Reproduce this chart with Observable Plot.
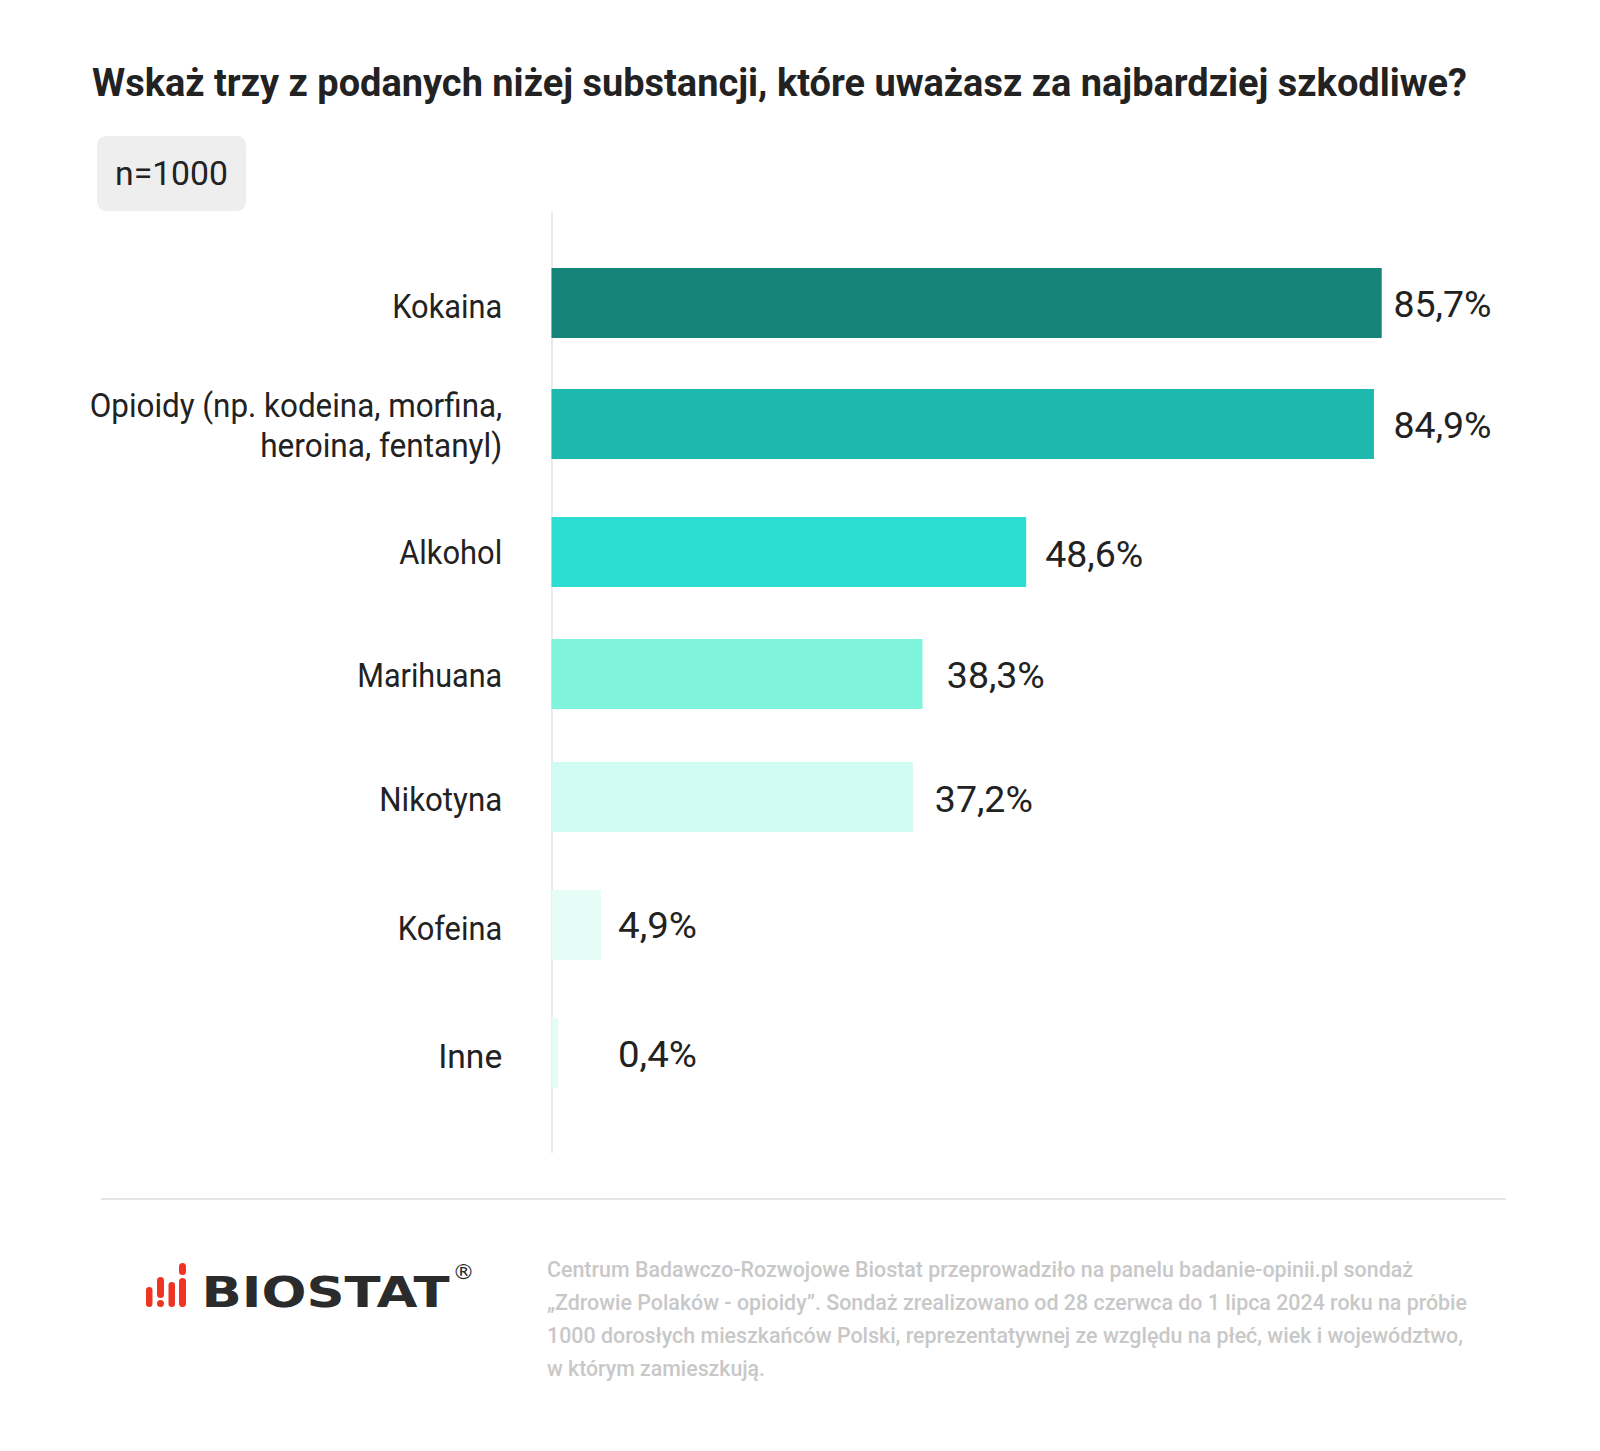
<!DOCTYPE html>
<html lang="pl">
<head>
<meta charset="utf-8">
<script src="https://cdn.jsdelivr.net/npm/d3@7"></script>
<script src="https://cdn.jsdelivr.net/npm/@observablehq/plot@0.6"></script>
<style>
  html, body { margin: 0; padding: 0; background: #fff; }
  #page { position: relative; width: 1600px; height: 1451px; overflow: hidden; font-family: Roboto, sans-serif; color: #222; }
  #page > * { position: absolute; }
  #title { left: 92px; top: 60px; font-size: 38px; font-weight: 700; line-height: 46px; white-space: nowrap; transform-origin: left center; }
  #badge { left: 97px; top: 136px; width: 149px; height: 75px; background: #eeeeee; border-radius: 9px; }
  #n { left: 115px; top: 151.5px; font-size: 34px; line-height: 42px; white-space: nowrap; transform-origin: left center; }
  #chart { left: 0; top: 211px; }
  #rule { left: 101px; top: 1198px; width: 1405px; height: 1.5px; background: #e6e6e6; }
  .note { left: 546.5px; font-size: 22px; font-weight: 500; color: #c8c8c8; line-height: 30px; white-space: nowrap; transform-origin: left center; }
  #logo { left: 0; top: 1240px; }
</style>
</head>
<body>
<div id="page">
  <div id="title">Wskaż trzy z podanych niżej substancji, które uważasz za najbardziej szkodliwe?</div>
  <div id="badge"></div>
  <div id="n">n=1000</div>
  <div id="chart"></div>
  <div id="rule"></div>
  <div class="note" style="top:1254.5px" data-w="866">Centrum Badawczo-Rozwojowe Biostat przeprowadziło na panelu badanie-opinii.pl sondaż</div>
  <div class="note" style="top:1287.5px" data-w="920">„Zdrowie Polaków - opioidy”. Sondaż zrealizowano od 28 czerwca do 1 lipca 2024 roku na próbie</div>
  <div class="note" style="top:1320.5px" data-w="916">1000 dorosłych mieszkańców Polski, reprezentatywnej ze względu na płeć, wiek i województwo,</div>
  <div class="note" style="top:1353.5px" data-w="218">w którym zamieszkują.</div>
  <svg id="logo" width="600" height="100" viewBox="0 1240 600 100">
    <g fill="#ee3524">
      <rect x="146" y="1287" width="6.5" height="20" rx="3.2"/>
      <rect x="157" y="1277" width="7" height="21" rx="3.5"/>
      <rect x="157" y="1300" width="7" height="7" rx="3.5"/>
      <rect x="168.5" y="1282" width="6.5" height="25" rx="3.2"/>
      <rect x="179" y="1263" width="7" height="12" rx="3.5"/>
      <rect x="179" y="1278" width="7" height="29" rx="3.5"/>
    </g>
    <text x="201.5" y="1307" font-family="'DejaVu Sans'" font-weight="700" font-size="42" fill="#2b2b2b" textLength="248" lengthAdjust="spacingAndGlyphs">BIOSTAT</text>
    <text x="463.5" y="1279" font-family="'DejaVu Sans'" font-size="22" fill="#2b2b2b" text-anchor="middle">®</text>
  </svg>
</div>
<script>
const categories = ["Kokaina", "Opioidy (np. kodeina, morfina,\nheroina, fentanyl)", "Alkohol", "Marihuana", "Nikotyna", "Kofeina", "Inne"];
// Figures printed next to the bars.
const printedValues = ["85,7%", "84,9%", "48,6%", "38,3%", "37,2%", "4,9%", "0,4%"];
// Bar lengths as measured in the picture, which run slightly past the printed figure on some rows.
const barLengths = [85.7, 84.9, 49.0, 38.3, 37.3, 5.1, 0.7];
const barColors = ["#17847a", "#1db9ae", "#2cddd2", "#7ff3db", "#d0fbf2", "#e6fcf7", "#e6fcf7"];

const rowShift = [0, -4, -1, -4, -6, -3, 0];
const nameShift = [2, 0, -1, 0, 1, 2, 2];
const valueShift = [1.5, 1.5, 3, 1.5, 2.5, 1, 1.5];
const valueGap = [11.3, 19.1, 18.5, 23.8, 21.5, 16.6, 59.2];
const nameWidths = [[110], [412.5, 242], [103], [145], [123], [104.5], [64]];
const valueWidths = [98, 98, 98, 98, 98, 79, 79];

const marks = [Plot.ruleX([0], {stroke: "#e3e3e3", strokeWidth: 1.5})];
categories.forEach((c, i) => {
  const row = [{category: c, length: barLengths[i], label: printedValues[i]}];
  marks.push(Plot.barX(row, {x: "length", y: "category", fill: barColors[i], dy: rowShift[i]}));
  marks.push(Plot.text(row, {
    x: "length", y: "category", text: "label", textAnchor: "start",
    dx: valueGap[i], dy: rowShift[i] + valueShift[i], fontSize: 36, fill: "#222",
    className: "vl"
  }));
  marks.push(Plot.text(row, {
    x: 0, y: "category", text: "category", textAnchor: "end", lineHeight: 1.212,
    dx: -49.8, dy: rowShift[i] + nameShift[i], fontSize: 33, fill: "#222",
    className: "nm"
  }));
});

const chart = Plot.plot({
  width: 1600,
  height: 942,
  marginTop: 0, marginBottom: 0, marginLeft: 0, marginRight: 0,
  style: {fontFamily: "Roboto, sans-serif", background: "transparent", overflow: "visible"},
  x: {domain: [0, 85.7], range: [551.5, 1381.7], axis: null},
  y: {type: "band", domain: categories, range: [2.3, 932.3], padding: 0.44, axis: null},
  marks
});
document.getElementById("chart").append(chart);

function fitText(node, w) {
  node.setAttribute("textLength", w);
  node.setAttribute("lengthAdjust", "spacingAndGlyphs");
}
let vi = 0, ni = 0;
chart.querySelectorAll("text").forEach(t => {
  const cls = t.closest("g").getAttribute("class") || "";
  if (cls.includes("vl")) { fitText(t, valueWidths[vi++]); }
  else if (cls.includes("nm")) {
    const spans = t.querySelectorAll("tspan");
    if (spans.length) spans.forEach((s, j) => fitText(s, nameWidths[ni][j]));
    else fitText(t, nameWidths[ni][0]);
    ni++;
  }
});

function fitDiv(el, w) {
  const r = el.getBoundingClientRect().width;
  el.style.transform = `scaleX(${w / r})`;
}
fitDiv(document.getElementById("title"), 1375);
fitDiv(document.getElementById("n"), 113);
document.querySelectorAll(".note").forEach(el => fitDiv(el, +el.dataset.w));
</script>
</body>
</html>
